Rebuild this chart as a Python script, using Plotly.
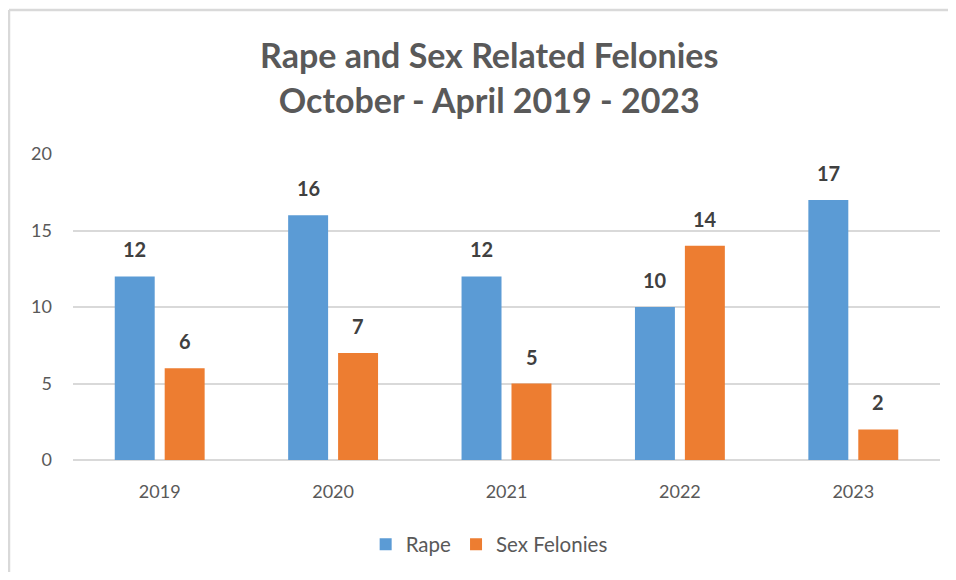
import plotly.graph_objects as go

years = ["2019", "2020", "2021", "2022", "2023"]
rape = [12, 16, 12, 10, 17]
sex_felonies = [6, 7, 5, 14, 2]
y_ticks = [0, 5, 10, 15, 20]

# page body has an 8px margin, so the figure is sized to fit inside it
W, H = 940, 564
ML, MR, MT, MB = 65, 8, 146, 110
pw, ph = W - ML - MR, H - MT - MB

blue = "#5b9bd5"
orange = "#ed7d31"
gray_text = "#595959"
font = "Lato"

fig = go.Figure()
fig.add_trace(go.Bar(x=years, y=rape, name="Rape", marker=dict(color=blue, line=dict(width=0))))
fig.add_trace(go.Bar(x=years, y=sex_felonies, name="Sex Felonies", marker=dict(color=orange, line=dict(width=0))))

# data labels above each bar (category axis -> annotations use the category index)
for series, shift in ((rape, -25), (sex_felonies, 25)):
    for i, v in enumerate(series):
        fig.add_annotation(x=i, y=v, text="<b>%d</b>" % v, showarrow=False,
                           xshift=shift, yanchor="bottom", yshift=13,
                           font=dict(family=font, size=20, color="#404040"))

# chart area border (top and left only visible)
bx = (1 - ML) / pw
by = 1 + (MT - 1) / ph
fig.add_shape(type="line", xref="paper", yref="paper",
              x0=bx, x1=(W + 10 - ML) / pw, y0=by, y1=by,
              line=dict(color="#d9d9d9", width=2.5))
fig.add_shape(type="line", xref="paper", yref="paper",
              x0=bx, x1=bx, y0=by, y1=-(MB + 10) / ph,
              line=dict(color="#d9d9d9", width=2.5))

fig.update_layout(
    width=W, height=H,
    margin=dict(l=ML, r=MR, t=MT, b=MB),
    paper_bgcolor="white", plot_bgcolor="white",
    barmode="group", bargap=0.424, bargroupgap=0.2,
    title=dict(text="<b>Rape and Sex Related Felonies<br>October - April 2019 - 2023</b>",
               x=0.512, xanchor="center", y=0.893, yanchor="middle",
               font=dict(family=font, size=34, color=gray_text)),
    font=dict(family=font, color=gray_text),
    legend=dict(orientation="h", x=0.48, xanchor="center", y=-0.276, yanchor="middle",
                font=dict(size=20.5, color=gray_text), itemwidth=30, traceorder="normal"),
    showlegend=True,
)
fig.update_xaxes(type="category", showgrid=False, showline=False, ticks="",
                 tickfont=dict(size=18, color=gray_text), ticklabelstandoff=19)
fig.update_yaxes(range=[0, 20], tickvals=y_ticks, showgrid=True, gridcolor="#d9d9d9", gridwidth=1.5,
                 zeroline=True, zerolinecolor="#d9d9d9", zerolinewidth=1.5,
                 tickfont=dict(size=18, color=gray_text), ticks="", ticklabelstandoff=20)

fig.write_html("out.html")
